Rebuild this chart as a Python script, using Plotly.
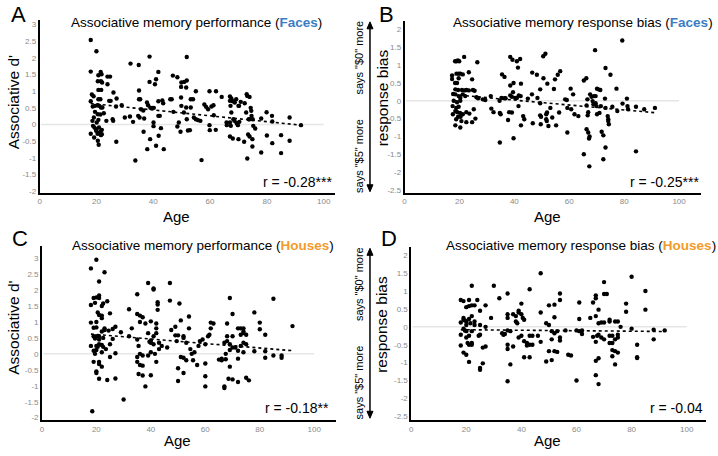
import plotly.graph_objects as go

# ---------------- data ----------------
age_A = [18,20,18,20.7,21.5,21.8,20.5,21.6,22,23.9,24.8,23.9,18.4,19,18,20.7,21.7,20.7,21.4,24.5,25,26,27.1,26.9,28.9,
         18.7,19.5,20.4,21,21.6,22.1,19.5,20.5,21.4,19.1,20.7,18.6,20.1,19.3,19.9,20.9,21.9,21.4,20.8,20.4,21.9,19.2,20.5,20.8,21.6,18.8,19.9,18,
         25.7,25.9,22.6,23.5,27,30,31.8,32,32.9,34.9,33.7,35,35,35.4,35.7,34.7,35.2,36.5,36.8,36.6,37.8,38.2,37.9,38.7,38.7,38.9,39,39.6,40.2,40.1,40.1,40.6,41,41,41.8,41.8,42.3,41.8,42.7,41.9,43.2,43.5,43.7,
         46,46.5,46.9,48.5,47.1,48.5,49,49.6,49.8,49.9,49.8,49.9,50.9,51.8,51.6,51.8,50.8,51.8,52.2,52.9,51.6,53.2,54,53.2,54.3,55,55.8,56.6,55,57,58,58.6,59.3,59.8,59.8,59.9,60.5,61.2,61.3,62,62.1,64.1,
         65.8,65.9,67,67,67.2,67.5,67,67.3,67,68,67.5,68,68.7,69.2,68.2,68.6,69.4,69.8,70.3,70,70.2,70,70.8,72.2,72.7,72,72.9,73.1,73.9,73.1,73.6,73.9,73.4,73.9,74.3,74.5,74.6,75,75.2,74.9,74.9,75.9,78,78,79.9,80,81.8,81.9,81.9,85,85,88,88,92]
val_A = [2.54,2.2,1.59,1.48,1.58,1.51,1.3,1.3,1.26,1.44,1.44,1.21,0.9,0.85,0.7,1.04,1.04,0.76,0.76,0.71,0.71,0.96,0.78,0.54,0.58,
         0.54,0.56,0.58,0.56,0.51,0.51,0.38,0.31,0.3,0.21,0.14,0.11,0.06,-0.09,-0.14,-0.09,-0.16,-0.22,-0.26,-0.28,-0.29,-0.39,-0.49,-0.61,-0.32,-0.04,-0.19,-0.28,
         0.16,0.11,0.34,0.11,-0.52,0.21,0.24,1.83,0.08,1.79,-1.08,1.02,0.76,0.76,0.46,0.26,0.21,0.42,0.18,-0.22,0.66,0.58,-0.74,2.04,1.28,-0.44,0.5,0.5,0.5,0.06,-0.05,1.21,1.36,-0.64,1.58,0.26,0.26,0.7,-0.11,-0.34,0.72,0.64,-0.74,
         0.76,0.76,1.47,1.42,0.38,-0.06,0.06,-0.22,1.13,1.26,0.81,0.56,1.28,1.32,1.11,2.03,0.36,0.16,-0.18,-0.17,0.51,0.76,0.76,0.51,0.21,0.16,0.13,0.11,1.0,-1.07,0.6,0.53,0.46,1.0,-0.02,-0.17,0.54,0.58,0.28,-0.16,1.0,0.83,
         0.06,-0.02,0.84,0.71,0.56,0.36,0.06,-0.04,-0.36,-0.42,0.78,0.7,0.66,0.76,0.16,0.11,0.04,-0.02,0.08,0.56,0.56,-0.44,0.68,0.64,0.36,-0.52,0.91,0.86,0.83,-1.02,0.16,0.16,-0.3,-0.36,0.5,0.41,0.26,0.16,-0.04,-0.44,-0.66,-0.12,0.18,-0.84,0.37,-0.33,0.26,0.09,-0.56,-0.32,-0.86,0.21,-0.49,-0.02]
trend_age_A = [18, 92]
trend_val_A = [0.63, -0.02]

age_B = [18.4,18.9,19.4,19.9,21.7,26.5,17.3,17.3,18.9,19.7,20.3,21.2,18.4,19.1,19.7,23.4,24.6,
         18.5,19.5,20.9,21.9,22.5,23.4,24.9,25.5,17.7,18.5,19.7,21.2,22.1,20.3,26.2,26.8,17.9,19.1,20.3,17.5,18.8,19.7,
         18.5,19.2,20.2,21.2,22.5,23.6,25.2,17.6,19.5,20.4,18.8,20.7,22.5,24.6,25.8,18.5,20.3,
         28.5,29.4,31.4,31.6,32.4,34.6,35.3,36.3,36.8,34.7,35,34.7,35.5,36.4,37.7,38.1,39.1,38.5,38.5,39.1,38.5,39.3,39.7,39.7,39.5,40.3,40.9,40.9,41.3,42.1,41.6,42.3,42.4,42.4,41.5,43.2,43.6,
         44.9,46.4,46.5,46.7,48.2,48.4,49.4,49.4,49.4,49.7,49.6,50.6,50.5,51.3,51.6,51.6,51.8,52,51.9,52.4,53.1,53.8,54.4,54.8,55.8,56.7,55.2,56.3,58.5,59.1,59.3,59.3,60.5,61.4,60.7,61.9,63.3,
         65.3,66.2,65.3,66.3,66.7,66.9,66.6,66.3,66.9,67.4,67.2,67.3,67.6,68.1,68.5,68.8,69.6,69.9,69,69.6,69.4,70.1,70.6,71.3,70.1,71,71.5,71.8,72.4,72.4,73,73.2,73.2,73.2,74,74.2,74.2,74.4,75,75.7,77.2,77.5,79.3,79.4,81,81.2,81.4,84.3,84.3,87.3,91.2]
val_B = [1.11,1.11,1.13,1.11,1.23,1.08,0.71,0.61,0.76,0.76,0.76,0.74,0.5,0.5,0.63,0.8,0.6,
         0.32,0.3,0.3,0.29,0.3,0.29,0.3,0.28,0.19,0.18,0.13,0.18,0.13,0.08,0.1,0.07,0.0,-0.04,0.0,-0.15,-0.2,-0.17,
         -0.29,-0.32,-0.34,-0.38,-0.32,-0.36,-0.24,-0.38,-0.45,-0.45,-0.52,-0.57,-0.6,-0.6,-0.5,-0.69,-0.75,
         0.04,0.02,0.13,-0.22,-0.32,0.0,0.08,0.07,0.07,-0.34,-0.38,-1.17,0.74,0.67,-0.54,-0.32,-0.33,0.43,0.15,0.11,1.23,1.15,-1.05,0.5,0.24,0.08,0.08,1.11,0.93,1.17,0.15,0.13,0.48,-0.69,-0.15,-0.43,-0.52,
         0.06,0.18,0.79,-0.63,0.73,0.08,-0.07,0.32,-0.41,-0.45,-0.66,0.63,1.25,1.32,-0.38,-0.52,-0.57,0.48,-0.33,-0.71,-0.2,-0.47,0.33,0.6,0.73,0.83,-0.69,-0.33,0.04,0.02,-0.2,-0.89,0.34,0.18,-0.24,-0.38,-0.43,
         0.57,0.63,-1.5,-0.13,-0.41,-0.32,0.04,-0.8,-0.89,-1.0,-1.06,-1.84,0.18,0.11,-0.01,-0.1,-0.07,-0.15,0.13,0.13,1.42,0.34,0.32,0.3,-0.38,-0.34,-0.15,-0.87,-0.97,-1.64,0.06,-0.2,0.92,-1.31,-0.43,-0.52,-0.57,-0.66,0.73,-0.17,0.34,-0.29,1.69,-0.08,0.06,-0.15,-0.24,-0.17,-1.42,-0.24,-0.2]
trend_age_B = [18, 92]
trend_val_B = [0.17, -0.34]

age_C = [18,20,23,21,18,18,19,20,21,21,19.5,20.5,21,22,22,22.5,24,25,20,22,
         18,19,19,20,20,19.5,20,20.5,21,22,22.5,23,23,22,21,21,22.5,20,19,23.5,24.5,25,26,26,27,27,25,22,19,21,21,20,20,21,24,27,18.5,22,19.5,
         29,30,32,33,32,35,35,36,36,37,38,35,35.5,36,35,35,36,37,35.5,37,38,37,
         39,40,39,39.5,40,40,41,39,40,40,41,41,41,42,42,42,42.5,42.5,42.5,43,43,42,41.5,44,
         46,47,47,47.5,49,49,50,49.5,50.5,51,50,50,51,52,52,53,52,53,52,54,54,54.5,55,55.5,56,57,57.5,58,59,60,60,60,60,61,61.5,62,62,63,
         65,66,66,67,67,67,67.5,67.5,68,68,68,68.5,69,69,69,69,70,70,70,70,71,72,72,72,72,73,73,73,74,74,74,74,75,75,75,76,74,
         78,78,80,80,82,82,82,85,85,88,88,92]
val_C = [2.68,2.95,2.56,2.27,1.53,0.98,1.75,1.77,1.83,1.75,1.6,1.3,1.22,1.2,1.5,1.58,1.65,1.27,1.0,1.12,
         0.25,0.55,0.82,0.83,0.55,0.48,0.25,0.22,0.3,0.28,0.22,0.8,0.75,0.7,0.55,0.45,0.5,0.12,0.1,0.15,0.73,0.3,0.47,0.78,0.85,0.02,-0.1,-0.4,-0.25,-0.25,-0.32,-0.55,-0.6,-0.78,-0.82,-0.77,-1.8,0.05,0.0,
         0.68,-1.43,1.4,0.8,0.55,1.87,1.25,1.2,1.0,1.15,0.95,0.45,0.25,0.0,-0.1,-0.25,-0.35,-0.37,-0.63,-0.68,-1.02,-0.05,
         2.22,1.02,0.65,0.38,0.35,0.42,0.3,-0.05,0.05,-0.67,0.55,2.05,2.02,0.8,0.65,0.95,1.38,1.55,1.62,0.35,0.15,-0.25,0.0,0.25,
         0.2,2.22,1.67,0.75,0.85,0.58,0.58,0.4,1.58,-0.1,-0.45,-0.85,1.05,0.55,0.5,0.35,-0.12,-0.2,-0.6,1.17,0.8,0.15,0.0,-0.2,0.05,-0.35,0.25,0.4,0.45,0.3,-0.3,-0.7,-1.02,0.55,0.6,0.8,0.98,0.95,
         -0.18,-0.15,-0.2,0.35,-1.02,-1.07,-0.17,0.0,0.4,0.95,0.55,-0.78,1.75,-0.4,0.3,0.12,0.2,-0.8,1.25,0.55,0.2,-0.88,0.1,-0.15,0.8,0.8,0.6,0.25,0.8,0.35,0.7,0.65,0.6,0.3,-0.75,-0.83,0.05,
         1.3,0.08,0.98,0.77,0.6,0.08,-0.12,-0.05,1.73,-0.05,-0.12,0.87]
trend_age_C = [18, 92]
trend_val_C = [0.62, 0.1]

age_D = [18,19,18,18,18,19,19,19.5,20,20,19,19.5,20,20,21,20.5,21,22,22,19,20,21,20,21,22,23,21,22,21.5,22,22,23,23,24,25,24.5,25,25,25,25,26,26,27,27,27,21,
         29,30,32,33,34,33.5,35,35,35,35,35,35,35,36,36,37,37,38,38,38.5,39,39,40,40,40.5,41,40,41,41,42,42,43,43,43,43,44,44,39,
         46,47,47,47,49,49,50,50,50,51,51,51,52,52,52,52,53,53,54,54,54,54,56,57,58,60,60,61,61,61,62,62,
         65,66,66,67,67,67,67,67,67,67.5,68,68,68,68,68,69,69,70,70,70,70,71,72,72,72,72,73,73,73,73,74,74,74,74,75,75,75,75,76,78,78,80,80,82,82,82,85,85,88,88,92]
val_D = [0.75,0.72,0.12,-0.22,-0.52,0.2,0.25,0.18,0.15,0.05,-0.05,-0.1,-0.12,-0.3,-0.25,-0.45,-0.5,-0.45,-0.5,-0.72,-0.78,-0.98,0.55,0.58,0.6,0.6,0.22,0.3,0.1,1.15,-0.12,0.05,0.15,0.75,-0.22,-0.25,0.45,0.05,-1.15,-1.2,-0.58,-1.02,0.6,0.0,-0.55,0.75,
         0.25,1.15,0.8,-0.18,-0.2,-0.22,0.93,0.35,0.25,-0.1,-0.5,-0.62,-1.52,-0.12,-1.05,-0.55,0.35,0.3,0.15,0.1,0.45,0.4,0.35,0.65,0.25,0.2,-0.25,-0.4,-0.85,-0.52,-0.45,1.05,-0.25,-0.5,-0.85,-0.25,-0.5,-0.3,
         -0.25,1.5,0.4,-0.42,0.1,-0.97,0.6,0.05,-0.68,-0.12,-0.35,-0.93,0.62,0.27,-0.18,-0.68,-0.12,-0.7,0.93,0.75,-0.3,-0.38,-0.1,-0.78,-0.8,-0.1,-1.5,0.68,0.22,-0.12,-0.1,-0.2,
         0.25,0.68,-0.28,0.88,0.8,0.3,-0.42,-0.95,-1.35,-0.25,0.48,0.1,-0.22,-0.88,-1.6,-0.3,0.12,1.25,0.92,0.12,-0.35,0.92,0.2,0.15,-0.25,-0.45,-0.45,-0.25,-0.65,-0.82,-0.68,-1.05,0.15,-0.35,0.15,-0.22,-0.3,-0.72,0.0,0.65,0.42,1.4,-0.05,-0.5,-0.85,-0.87,1.0,0.48,-0.08,-0.35,-0.1]
trend_age_D = [18, 92]
trend_val_D = [-0.08, -0.13]

x_ticks = [0, 20, 40, 60, 80, 100]
y_ticks_perf = [3, 2.5, 2, 1.5, 1, 0.5, 0, -0.5, -1, -1.5, -2]
y_ticks_bias = [2, 1.5, 1, 0.5, 0, -0.5, -1, -1.5, -2, -2.5]

titles = ['Associative memory performance (<b><span style="color:#3b7cc4">Faces</span></b>)',
          'Associative memory response bias (<b><span style="color:#3b7cc4">Faces</span></b>)',
          'Associative memory performance (<b><span style="color:#f39a2c">Houses</span></b>)',
          'Associative memory response bias (<b><span style="color:#f39a2c">Houses</span></b>)']
r_labels = ["r = -0.28***", "r = -0.25***", "r = -0.18**", "r = -0.04"]
letters = ["A", "B", "C", "D"]

# ---------------- figure ----------------
W, H = 718, 456
FONT = "Liberation Sans"

def px(x):
    return x / W

def py(y):
    return 1 - y / H

panels = [
    dict(ages=age_A, vals=val_A, ta=trend_age_A, tv=trend_val_A,
         xd=[px(37.7), px(334)], yd=[py(194), py(19.8)], xr=[0, 104], yr=[-2.05, 3.15], yt=y_ticks_perf),
    dict(ages=age_B, vals=val_B, ta=trend_age_B, tv=trend_val_B,
         xd=[px(403.7), px(701)], yd=[py(194), py(20.7)], xr=[0, 108], yr=[-2.58, 2.25], yt=y_ticks_bias),
    dict(ages=age_C, vals=val_C, ta=trend_age_C, tv=trend_val_C,
         xd=[px(40), px(335)], yd=[py(423), py(248)], xr=[0, 108], yr=[-2.08, 3.37], yt=y_ticks_perf),
    dict(ages=age_D, vals=val_D, ta=trend_age_D, tv=trend_val_D,
         xd=[px(410.3), px(706)], yd=[py(423), py(248.7)], xr=[0, 107], yr=[-2.61, 2.23], yt=y_ticks_bias),
]

fig = go.Figure()
layout = dict(width=W, height=H, margin=dict(l=0, r=0, t=0, b=0),
              paper_bgcolor="white", plot_bgcolor="white", showlegend=False,
              font=dict(family=FONT, color="black"))
shapes = []
annotations = []

for i, p in enumerate(panels):
    n = "" if i == 0 else str(i + 1)
    xa, ya = "x" + n, "y" + n
    layout["xaxis" + n] = dict(domain=p["xd"], range=p["xr"], anchor=ya, showgrid=False, zeroline=False,
                               showline=True, linecolor="black", linewidth=1.5, ticks="",
                               tickvals=x_ticks, ticktext=[str(v) for v in x_ticks],
                               tickfont=dict(size=8, color="#8a8a8a", family=FONT))
    layout["yaxis" + n] = dict(domain=p["yd"], range=p["yr"], anchor=xa, showgrid=False, zeroline=False,
                               showline=True, linecolor="black", linewidth=1.5, ticks="",
                               tickvals=p["yt"], ticktext=[("%g" % v) for v in p["yt"]],
                               tickfont=dict(size=8, color="#8a8a8a", family=FONT))
    shapes.append(dict(type="line", xref=xa, yref=ya, x0=0.5, x1=100, y0=0, y1=0,
                       line=dict(color="#e6e6e6", width=1.5), layer="below"))
    fig.add_trace(go.Scatter(x=p["ages"], y=p["vals"], mode="markers", xaxis=xa, yaxis=ya,
                             marker=dict(size=4.4, color="black")))
    fig.add_trace(go.Scatter(x=p["ta"], y=p["tv"], mode="lines", xaxis=xa, yaxis=ya,
                             line=dict(color="black", width=1.6, dash="dot")))

# titles (left-anchored at the reference start), letters, r labels, axis titles
title_pos = [(67, 22.5), (450, 22.5), (68, 247), (443, 247)]
letter_pos = [(17, 14.5), (386, 14.5), (18, 240), (388, 240)]
r_pos = [(333, 183), (701, 183), (330, 411), (705, 411)]
age_pos = [(175, 218), (547, 218), (176, 443), (547, 443)]
for i in range(4):
    annotations.append(dict(text=titles[i], x=px(title_pos[i][0]), y=py(title_pos[i][1]), xref="paper", yref="paper",
                            showarrow=False, xanchor="left", yanchor="middle", font=dict(size=13.5, family=FONT)))
    annotations.append(dict(text=letters[i], x=px(letter_pos[i][0]), y=py(letter_pos[i][1]), xref="paper", yref="paper",
                            showarrow=False, xanchor="center", yanchor="middle", font=dict(size=22, family=FONT)))
    annotations.append(dict(text=r_labels[i], x=px(r_pos[i][0]), y=py(r_pos[i][1]), xref="paper", yref="paper",
                            showarrow=False, xanchor="right", yanchor="middle", font=dict(size=14, family=FONT)))
    annotations.append(dict(text="Age", x=px(age_pos[i][0]), y=py(age_pos[i][1]), xref="paper", yref="paper",
                            showarrow=False, xanchor="center", yanchor="middle", font=dict(size=15, family=FONT)))

# y axis titles
for (xx, yy) in [(11, 103), (12, 330)]:
    annotations.append(dict(text="Associative d'", x=px(xx), y=py(yy), xref="paper", yref="paper", textangle=-90,
                            showarrow=False, xanchor="center", yanchor="middle", font=dict(size=15.5, family=FONT)))
for (xx, yy, top, bot) in [(381, 98, 22, 193), (381, 326, 250, 421)]:
    annotations.append(dict(text="response bias", x=px(xx), y=py(yy), xref="paper", yref="paper", textangle=-90,
                            showarrow=False, xanchor="center", yanchor="middle", font=dict(size=15.5, family=FONT)))
    annotations.append(dict(text='says "$0" more', x=px(358), y=py(top + 36), xref="paper", yref="paper", textangle=-90,
                            showarrow=False, xanchor="center", yanchor="middle", font=dict(size=11, family=FONT)))
    annotations.append(dict(text='says "$5" more', x=px(358), y=py(bot - 36), xref="paper", yref="paper", textangle=-90,
                            showarrow=False, xanchor="center", yanchor="middle", font=dict(size=11, family=FONT)))
    shapes.append(dict(type="line", xref="paper", yref="paper", x0=px(369), x1=px(369), y0=py(top + 5), y1=py(bot - 5),
                       line=dict(color="black", width=1.5)))
    shapes.append(dict(type="path", xref="paper", yref="paper",
                       path="M %f %f L %f %f L %f %f Z" % (px(366), py(top + 7), px(369), py(top), px(372), py(top + 7)),
                       fillcolor="black", line=dict(color="black", width=1)))
    shapes.append(dict(type="path", xref="paper", yref="paper",
                       path="M %f %f L %f %f L %f %f Z" % (px(366), py(bot - 7), px(369), py(bot), px(372), py(bot - 7)),
                       fillcolor="black", line=dict(color="black", width=1)))

layout["shapes"] = shapes
layout["annotations"] = annotations
fig.update_layout(**layout)
# remove the browser's default 8px body margin so the figure sits at the window's top-left corner
fig.write_html("out.html", config={"displayModeBar": False},
               post_script="document.body.style.margin='0';document.body.style.padding='0';")
